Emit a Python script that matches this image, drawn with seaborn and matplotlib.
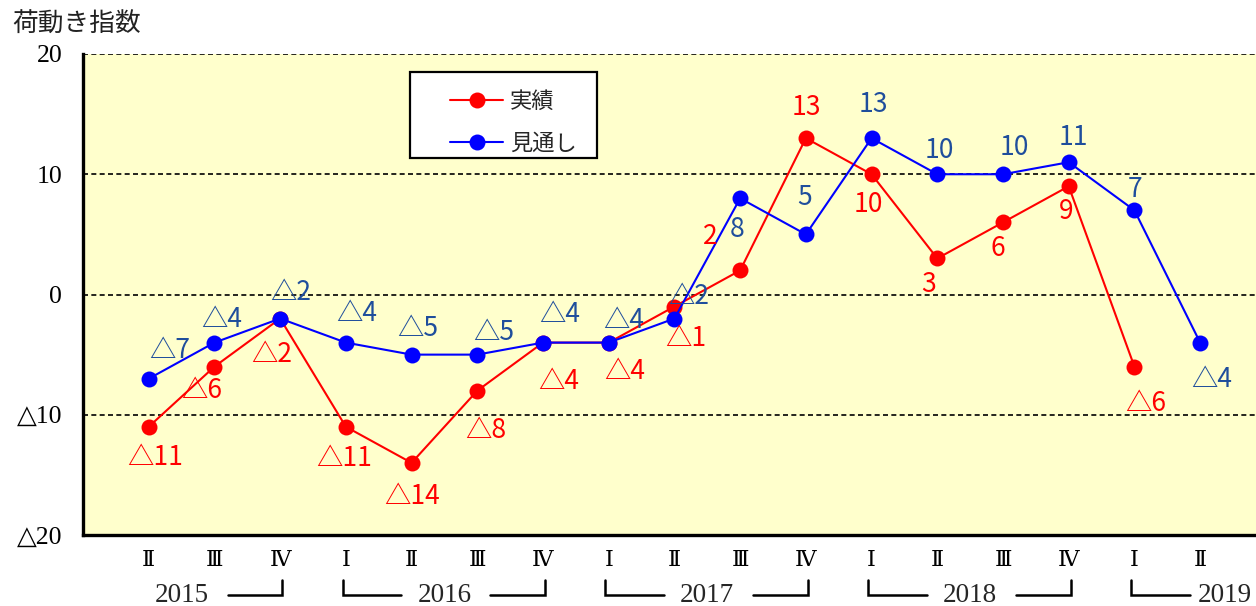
import matplotlib
matplotlib.use("Agg")
import matplotlib.pyplot as plt
import seaborn as sns
import pandas as pd
import numpy as np
from matplotlib import font_manager as fm
from matplotlib.transforms import blended_transform_factory
from matplotlib.patches import Rectangle
from matplotlib.lines import Line2D

# ---------------- data ----------------
quarters = ['Ⅱ', 'Ⅲ', 'Ⅳ', 'Ⅰ', 'Ⅱ', 'Ⅲ', 'Ⅳ', 'Ⅰ', 'Ⅱ', 'Ⅲ', 'Ⅳ',
            'Ⅰ', 'Ⅱ', 'Ⅲ', 'Ⅳ', 'Ⅰ', 'Ⅱ']
years = ['2015', '2016', '2017', '2018', '2019']
actual = [-11, -6, -2, -11, -14, -8, -4, -4, -1, 2, 13, 10, 3, 6, 9, -6, np.nan]
outlook = [-7, -4, -2, -4, -5, -5, -4, -4, -2, 8, 5, 13, 10, 10, 11, 7, -4]
series_names = ['実績', '見通し']
y_ticks = [-20, -10, 0, 10, 20]
y_title = '荷動き指数'

# ---------------- style ----------------
red = '#FF0000'
blue = '#0000FF'
red_text = '#FF0000'
blue_text = '#1F4E9C'
bg = '#FFFFCC'

# label offsets in pixels (dx, dy), per point
actual_offsets = [(6, -31), (-13, -24), (-8, -36), (-2, -32), (1, -34), (8, -40),
                  (16, -39), (16, -29), (11, -32), (-30, 34), (1, 31), (-3, -30),
                  (-9, -26), (-5, -26), (-3, -25), (11, -37), (0, 0)]
outlook_offsets = [(21, 28), (7, 23), (11, 26), (11, 29), (6, 26), (16, 22),
                   (17, 28), (15, 22), (14, 22), (-3, -31), (-1, 37), (2, 34),
                   (2, 24), (11, 27), (5, 25), (1, 21), (12, -37)]

sns.set_style('white')
names = {f.name for f in fm.fontManager.ttflist}
def avail(lst):
    r = [f for f in lst if f in names]
    return r if r else ['DejaVu Sans']

cjk = avail(['Noto Sans CJK JP', 'DejaVu Sans'])
label_font = avail(['Liberation Sans Narrow', 'Noto Sans CJK JP', 'DejaVu Sans'])
serif_font = avail(['Liberation Serif', 'DejaVu Serif', 'Noto Sans CJK JP'])
plt.rcParams['font.family'] = cjk


def fmt(v):
    v = int(round(v))
    return '△%d' % (-v) if v < 0 else '%d' % v


W, H = 1256, 606
fig = plt.figure(figsize=(W / 100, H / 100), dpi=100)
ax = fig.add_axes([83 / W, 1 - 535 / H, (W - 83) / W, (535 - 54) / H])
ax.set_facecolor(bg)

n = len(quarters)
df = pd.DataFrame({
    'pos': list(range(n)) * 2,
    'value': list(actual) + list(outlook),
    'series': [series_names[0]] * n + [series_names[1]] * n,
})

sns.lineplot(data=df, x='pos', y='value', hue='series', hue_order=series_names,
             palette=[red, blue], marker='o', markersize=11.5, markeredgewidth=0,
             linewidth=1.5, sort=False, ax=ax, legend=False, zorder=3)

# value labels
for vals, offs, col in [(actual, actual_offsets, red_text), (outlook, outlook_offsets, blue_text)]:
    for i, v in enumerate(vals):
        if v is None or (isinstance(v, float) and np.isnan(v)):
            continue
        ax.annotate(fmt(v), (i, v), xytext=offs[i], textcoords='offset pixels',
                    ha='center', va='center', color=col, fontsize=19,
                    family=label_font, zorder=6)

# axes
ax.set_xlim(-1, 16.85)
ax.set_ylim(-20, 20)
ax.set_xticks(range(n))
ax.set_xticklabels(quarters, family=serif_font, fontsize=16)
ax.set_yticks(y_ticks)
ax.set_yticklabels([fmt(v) for v in y_ticks], family=serif_font, fontsize=18.5)
ax.set_xlabel('')
ax.set_ylabel('')
ax.tick_params(axis='x', direction='in', length=5, width=1.5, pad=12, colors='black')
ax.tick_params(axis='y', direction='in', length=6, width=1.5, pad=15, colors='black')
ax.grid(axis='y', color='black', linestyle=(0, (3, 2)), linewidth=1.2)
ax.grid(axis='x', visible=False)
for s in ['top', 'right']:
    ax.spines[s].set_visible(False)
for s in ['left', 'bottom']:
    ax.spines[s].set_color('black')
    ax.spines[s].set_linewidth(2.4)
    ax.spines[s].set_zorder(4)

# year brackets
tr = blended_transform_factory(ax.transData, ax.transAxes)
q1 = [i for i, q in enumerate(quarters) if q == 'Ⅰ']
starts = [q1[0] - 4] + q1
y_line = (535 - 595) / (535 - 54)
y_vert = (535 - 580) / (535 - 54)
y_text = (535 - 595) / (535 - 54)
xmax = ax.get_xlim()[1]
for yr, st in zip(years, starts):
    en = st + 3
    c = st + 1.5
    tx = min(c, xmax - 0.48)
    ax.text(tx, y_text, yr, transform=tr, ha='center', va='center',
            family=serif_font, fontsize=19.5, clip_on=False)
    if st >= 0:
        ax.plot([st - 0.05, st - 0.05, c - 0.66], [y_vert, y_line, y_line],
                transform=tr, color='black', lw=1.8, clip_on=False,
                solid_joinstyle='miter')
    if en <= n - 1:
        ax.plot([c + 0.7, en + 0.03, en + 0.03], [y_line, y_line, y_vert],
                transform=tr, color='black', lw=1.8, clip_on=False,
                solid_joinstyle='miter')

# legend
ax.add_patch(Rectangle((410 / W, 1 - 158 / H), 187 / W, 86 / H,
                       transform=fig.transFigure, facecolor='white',
                       edgecolor='black', lw=1.6, zorder=4, clip_on=False))
handles = [Line2D([], [], color=c, marker='o', markersize=11.5, markeredgewidth=0, lw=1.5)
           for c in [red, blue]]
ax.legend(handles, series_names, loc='upper left', bbox_to_anchor=(439 / W, 1 - 79 / H),
          bbox_transform=fig.transFigure, frameon=False, borderpad=0,
          handlelength=2.4, handletextpad=0.3, labelspacing=0.85,
          prop={'family': cjk, 'size': 16})

fig.text(12 / W, 1 - 25 / H, y_title, ha='left', va='center', fontsize=18.5,
         family=cjk, color='#222222')

fig.savefig('out.png', dpi=100)
